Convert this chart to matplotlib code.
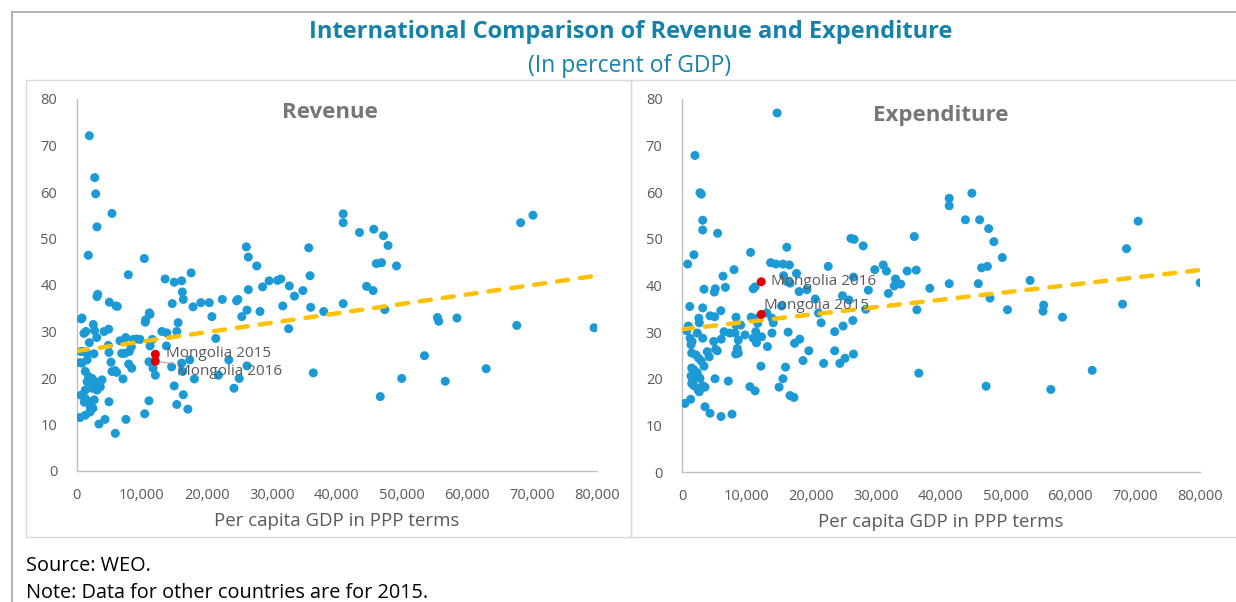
import matplotlib
matplotlib.use("Agg")
import matplotlib.pyplot as plt
from matplotlib.lines import Line2D
from matplotlib.patches import Rectangle
from matplotlib.ticker import FuncFormatter

plt.rcParams['font.family'] = ['Open Sans', 'DejaVu Sans']

# Revenue panel: per capita GDP (thousands, PPP) and revenue (% of GDP)
rev_gdp = [1.94, 2.77, 2.92, 5.43, 3.12, 1.78, 10.4, 7.94, 3.23, 3.12, 5.02, 6.05, 6.25,
           11.17, 11.28, 0.82, 10.6, 13.6, 15.0, 16.15, 16.25, 16.4, 14.7, 17.6, 17.9,
           19.1, 20.4, 20.8, 22.4, 24.6, 24.8, 25.4, 26.1, 26.4, 26.4, 26.2, 27.7, 28.2,
           28.6, 29.6, 30.9, 31.4, 31.7, 32.7, 33.5, 34.8, 35.7, 35.9, 36.0, 0.71, 1.12,
           1.43, 2.55, 1.94, 3.08, 4.2, 4.92, 0.66, 1.12, 1.54, 2.66, 0.5, 4.86, 4.97,
           5.28, 5.43, 5.9, 6.15, 6.66, 6.92, 7.38, 7.54, 8.09, 8.0, 8.46, 7.12, 8.71,
           9.23, 9.74, 10.55, 11.28, 11.63, 11.12, 11.74, 12.1, 13.1, 13.85, 13.8, 15.4,
           15.6, 14.6, 15.0, 16.15, 16.3, 16.4, 15.4, 17.1, 17.4, 18.1, 21.4, 21.8, 23.4,
           24.2, 25.0, 26.2, 32.6, 36.4, 0.5, 1.32, 2.05, 2.5, 2.7, 1.17, 0.66, 3.43,
           4.35, 4.97, 5.94, 7.58, 10.46, 11.12, 38.0, 41.0, 41.0, 43.5, 45.7, 47.2, 47.9,
           46.1, 46.9, 49.2, 44.6, 45.6, 41.0, 47.4, 55.5, 55.7, 58.5, 67.7, 79.6, 68.3,
           70.2, 50.0, 53.5, 46.7, 56.7, 63.0, 1.32, 1.83, 1.6, 2.37, 2.86, 3.9, 3.63,
           2.37, 3.12, 1.32, 0.82, 1.6, 8.4, 1.32, 2.1, 2.1, 2.74]
rev_val = [72.1, 63.1, 59.6, 55.4, 52.5, 46.4, 45.7, 42.2, 38.0, 37.5, 36.3, 35.5, 35.4,
           34.0, 33.7, 32.9, 32.5, 41.3, 40.6, 40.9, 38.5, 36.9, 36.0, 42.6, 35.3, 36.2,
           36.2, 33.2, 36.9, 36.6, 36.9, 33.2, 48.2, 46.0, 39.0, 34.6, 44.1, 34.3, 39.6,
           40.9, 41.0, 41.3, 35.5, 39.8, 37.6, 38.8, 48.0, 42.0, 35.2, 32.7, 29.6, 30.0,
           31.5, 27.6, 28.7, 30.0, 30.5, 25.7, 25.7, 25.4, 25.2, 23.3, 27.0, 25.5, 23.4,
           21.4, 21.6, 21.2, 28.0, 25.3, 25.3, 28.7, 25.7, 23.0, 22.1, 19.8, 28.3, 28.4,
           28.3, 32.0, 26.9, 28.3, 23.5, 22.1, 20.6, 30.0, 29.7, 26.9, 30.0, 31.9, 22.4,
           18.3, 23.2, 21.4, 16.4, 14.3, 13.3, 23.9, 19.8, 28.5, 20.6, 23.9, 17.8, 19.9,
           22.6, 30.6, 21.1, 11.5, 12.0, 12.7, 13.5, 15.3, 14.8, 16.3, 10.1, 11.1, 14.9,
           8.1, 11.1, 12.3, 15.1, 34.3, 55.3, 53.4, 51.3, 52.0, 50.6, 48.5, 44.6, 44.8,
           44.1, 39.7, 38.8, 36.0, 34.7, 33.0, 32.2, 32.9, 31.3, 30.8, 53.4, 55.0, 19.9,
           24.8, 16.0, 19.3, 22.0, 21.4, 20.3, 19.2, 19.9, 19.2, 19.6, 18.1, 17.8, 17.4,
           17.4, 23.2, 23.9, 26.7, 15.6, 14.9, 13.8, 30.2]

# Expenditure panel
exp_gdp = [14.7, 2.0, 2.78, 2.98, 3.2, 3.2, 5.5, 0.88, 1.85, 10.6, 13.7, 14.5, 15.6, 16.6,
           16.2, 8.04, 6.34, 6.7, 3.4, 5.15, 5.0, 11.3, 11.0, 15.7, 16.3, 16.7, 17.7,
           18.1, 19.3, 22.6, 20.6, 1.2, 3.2, 6.0, 2.6, 4.33, 5.05, 8.35, 10.7, 24.8,
           25.8, 26.1, 26.6, 28.0, 26.5, 28.8, 29.8, 31.1, 31.6, 31.9, 33.0, 32.8, 33.8,
           34.8, 36.2, 35.9, 38.3, 36.3, 28.4, 0.97, 0.73, 2.67, 1.24, 1.55, 1.39, 2.37,
           3.2, 1.5, 2.16, 2.58, 2.98, 3.4, 3.9, 4.2, 4.9, 5.2, 5.45, 6.07, 6.5, 7.4,
           8.2, 8.35, 9.07, 8.7, 8.55, 8.7, 8.3, 9.74, 11.4, 11.0, 11.5, 12.3, 11.7, 11.7,
           13.1, 13.9, 14.1, 13.9, 13.2, 12.2, 15.4, 16.4, 17.4, 18.2, 16.0, 15.6, 15.0,
           16.7, 17.3, 19.6, 18.7, 21.5, 21.1, 21.9, 23.6, 23.6, 24.9, 26.4, 24.4, 25.2,
           26.5, 36.6, 3.2, 3.55, 2.5, 2.67, 1.5, 1.85, 1.65, 2.05, 1.39, 1.85, 2.36, 2.78,
           5.1, 7.16, 10.5, 11.3, 0.46, 1.34, 3.55, 4.33, 6.03, 7.73, 41.3, 41.3, 44.8,
           43.8, 46.0, 47.4, 48.2, 49.5, 46.3, 47.2, 41.3, 45.8, 47.6, 50.3, 53.8, 55.9,
           55.8, 58.8, 68.1, 68.7, 70.5, 80.1, 47.0, 57.0, 63.4, 1.5]
exp_val = [77.0, 67.9, 59.9, 59.6, 54.0, 51.9, 51.2, 44.6, 46.6, 47.1, 44.9, 44.6, 44.6,
           44.4, 48.2, 43.4, 42.0, 39.6, 39.2, 39.3, 38.6, 39.7, 39.3, 42.1, 40.8, 40.5,
           42.6, 38.7, 39.1, 44.1, 37.1, 35.5, 35.2, 34.6, 33.0, 33.5, 33.3, 33.2, 33.2,
           37.8, 36.9, 50.1, 49.9, 48.5, 41.8, 39.0, 43.4, 44.4, 43.1, 38.3, 41.4, 39.9,
           40.3, 43.1, 43.3, 50.5, 39.4, 34.8, 34.9, 31.3, 30.3, 32.0, 28.7, 28.0, 27.3,
           29.8, 28.7, 25.5, 25.1, 24.4, 23.8, 22.7, 25.8, 24.7, 28.0, 26.3, 26.0, 28.5,
           30.1, 29.8, 29.8, 31.5, 31.5, 28.3, 26.5, 25.5, 25.3, 29.4, 30.1, 28.7, 27.7,
           29.0, 33.0, 31.9, 34.1, 33.0, 32.0, 29.8, 26.9, 22.7, 35.6, 30.0, 27.6, 28.5,
           22.5, 20.0, 18.2, 16.4, 16.0, 26.0, 23.9, 32.0, 34.1, 23.3, 30.1, 26.0, 31.3,
           32.5, 23.3, 24.4, 25.3, 21.2, 18.5, 18.2, 17.6, 17.2, 19.0, 18.5, 19.7, 20.4,
           20.6, 21.9, 21.3, 20.1, 20.0, 19.5, 18.3, 17.4, 14.7, 15.6, 14.0, 12.6, 11.9,
           12.4, 58.7, 57.1, 59.8, 54.1, 54.1, 52.2, 49.4, 46.0, 43.8, 44.1, 40.4, 40.4,
           37.3, 34.8, 41.1, 35.8, 34.5, 33.2, 36.0, 47.9, 53.8, 40.6, 18.4, 17.7, 21.8,
           22.3]

# Mongolia (GDP in thousands, value in % of GDP)
mng_rev = {'Mongolia 2015': (12.1, 25.1), 'Mongolia 2016': (12.1, 23.6)}
mng_exp = {'Mongolia 2015': (12.25, 33.8), 'Mongolia 2016': (12.25, 40.8)}

# Linear trend lines (value at 0 and at 80,000)
trend_x = [0, 80000]
rev_trend = [25.8, 42.0]
exp_trend = [30.6, 43.3]

BLUE = '#1b9ad6'
RED = '#e00000'
GOLD = '#ffc000'
GREY = '#595959'
TEAL = '#1582ab'

fig = plt.figure(figsize=(12.36, 6.02), dpi=100)
W, H = 1236, 602


def fx(px):
    return px / W


def fy(py):
    return 1 - py / H


# outer frame and panel boxes
fig.add_artist(Line2D([fx(12), 1], [fy(12), fy(12)], color='#a6a6a6', lw=1.2))
fig.add_artist(Line2D([fx(12), fx(12)], [fy(12), 0], color='#a6a6a6', lw=1.2))
for x0, x1 in [(26, 631), (631, 1240)]:
    fig.add_artist(Rectangle((fx(x0), fy(537)), fx(x1 - x0), (537 - 80) / H,
                             fill=False, ec='#d9d9d9', lw=1.0))

fig.text(fx(631), fy(32), 'International Comparison of Revenue and Expenditure',
         ha='center', va='center', fontsize=17, fontweight='bold', color=TEAL)
fig.text(fx(630), fy(66), '(In percent of GDP)', ha='center', va='center',
         fontsize=16.5, color=TEAL)


def panel(rect, gdp, vals, mng, trend, title, title_xy, label_offsets):
    ax = fig.add_axes(rect)
    ax.scatter([g * 1000 for g in gdp], vals, s=42, color=BLUE, edgecolors='none', zorder=3)
    ax.plot(trend_x, trend, color=GOLD, lw=3.2, linestyle=(0, (2.5, 2.7)),
            dash_capstyle='round', zorder=4)
    for name, (g, v) in mng.items():
        ax.scatter([g * 1000], [v], s=42, color=RED, edgecolors='none', zorder=5)
        off, leader = label_offsets[name]
        ax.annotate(name, (g * 1000, v), xytext=off, textcoords='offset pixels',
                    ha='left', va='center', fontsize=11, color=GREY, zorder=6,
                    arrowprops=dict(arrowstyle='-', color='#a6a6a6', lw=0.8,
                                    shrinkA=0, shrinkB=3) if leader else None)
    ax.set_xlim(0, 80000)
    ax.set_ylim(0, 80)
    ax.set_xticks(range(0, 80001, 10000))
    ax.set_yticks(range(0, 81, 10))
    ax.xaxis.set_major_formatter(FuncFormatter(lambda v, p: f'{int(v):,}'))
    ax.tick_params(length=0, labelsize=10.5, labelcolor=GREY)
    ax.tick_params(axis='x', pad=12)
    ax.tick_params(axis='y', pad=14)
    for s in ['top', 'right']:
        ax.spines[s].set_visible(False)
    for s in ['left', 'bottom']:
        ax.spines[s].set_color('#bfbfbf')
        ax.spines[s].set_linewidth(1.0)
    ax.set_xlabel('Per capita GDP in PPP terms', fontsize=13.4, color=GREY, labelpad=7)
    fig.text(fx(title_xy[0]), fy(title_xy[1]), title, ha='center', va='center',
             fontsize=16, fontweight='bold', color='#767676')
    ax.patch.set_alpha(0)
    return ax


panel([fx(76.7), fy(471), 520 / W, 372 / H], rev_gdp, rev_val, mng_rev, rev_trend,
      'Revenue', (330, 113),
      {'Mongolia 2015': ((11, 1), False), 'Mongolia 2016': ((22, -10), True)})
panel([fx(682), fy(472), 517.6 / W, 373 / H], exp_gdp, exp_val, mng_exp, exp_trend,
      'Expenditure', (941, 116),
      {'Mongolia 2015': ((3, 9), False), 'Mongolia 2016': ((10, 0), False)})

fig.text(fx(26), fy(566), 'Source: WEO.', ha='left', va='center', fontsize=14.3, color='black')
fig.text(fx(26), fy(593), 'Note: Data for other countries are for 2015.', ha='left',
         va='center', fontsize=14.3, color='black')

fig.savefig('out.png', dpi=100)
